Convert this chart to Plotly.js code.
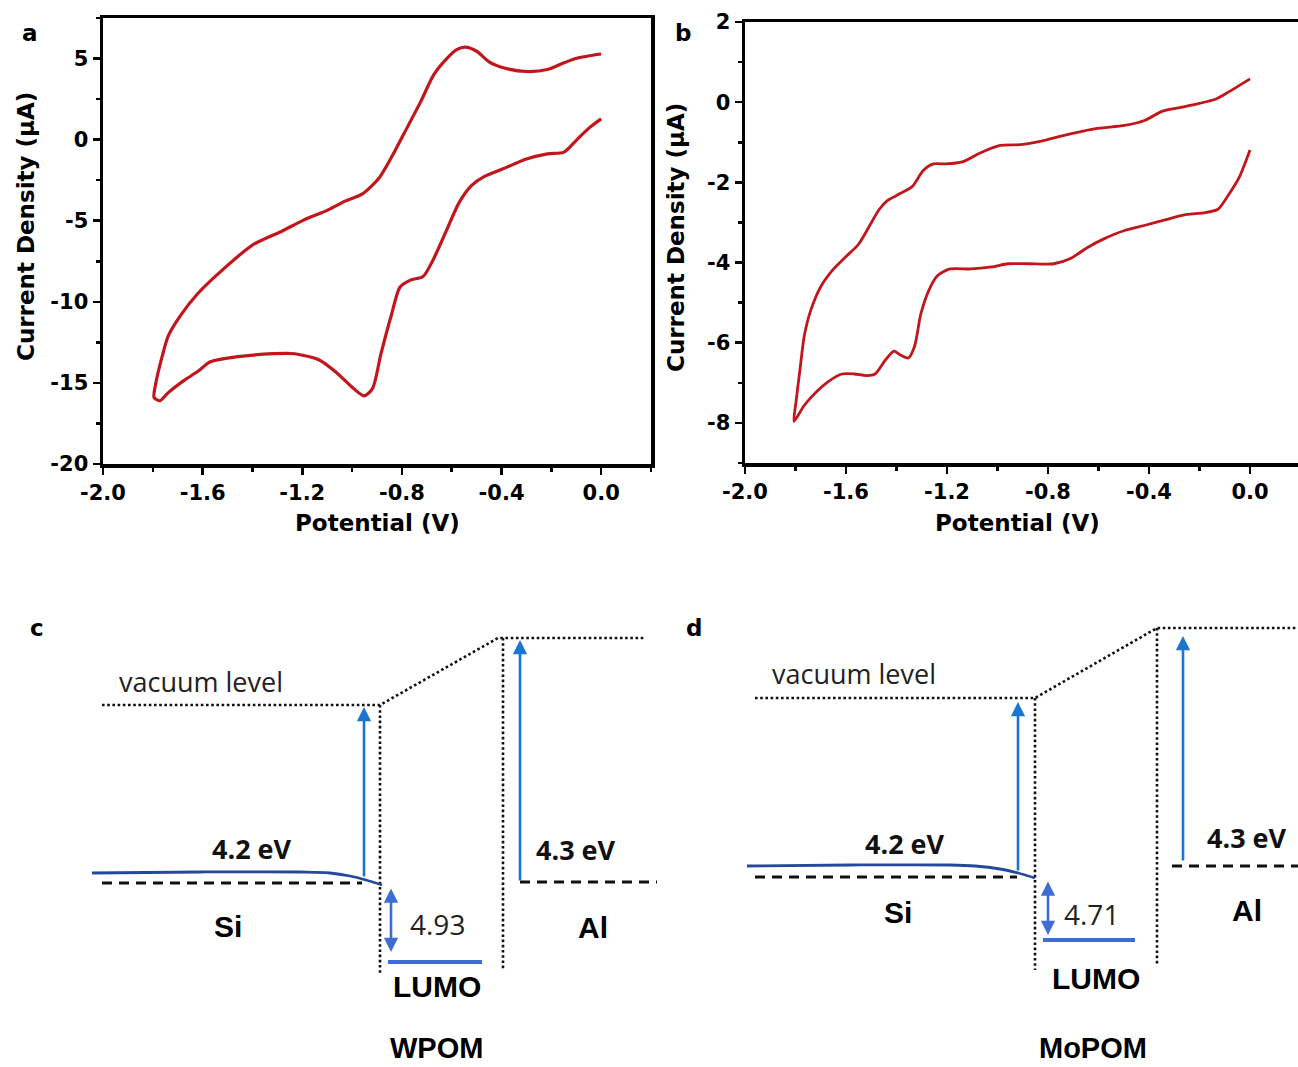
<!DOCTYPE html>
<html><head><meta charset="utf-8">
<script src="https://cdn.plot.ly/plotly-3.0.1.min.js"></script>
<style>html,body{margin:0;padding:0;background:#fff;}#chart{width:1298px;height:1067px;}</style>
</head><body><div id="chart"></div>
<script>
// ---------- Panel a : CV of WPOM ----------
const aPotential = [0.000,-0.047,-0.098,-0.149,-0.216,-0.300,-0.385,-0.450,-0.500,-0.545,-0.580,-0.622,-0.673,-0.724,-0.790,-0.842,-0.893,-0.960,-1.028,-1.096,-1.197,-1.280,-1.400,-1.518,-1.620,-1.687,-1.738,-1.763,-1.789,-1.795,-1.772,-1.738,-1.670,-1.620,-1.569,-1.467,-1.315,-1.230,-1.130,-1.060,-0.994,-0.952,-0.918,-0.884,-0.842,-0.808,-0.766,-0.715,-0.673,-0.622,-0.571,-0.520,-0.470,-0.385,-0.300,-0.216,-0.149,-0.098,-0.047,0.000];
const aCurrent   = [5.28,5.17,5.02,4.74,4.32,4.20,4.40,4.80,5.45,5.70,5.55,4.96,3.98,2.36,0.42,-1.09,-2.39,-3.36,-3.79,-4.33,-4.98,-5.63,-6.50,-8.00,-9.50,-10.8,-12.1,-13.4,-15.1,-15.9,-16.1,-15.6,-14.8,-14.3,-13.7,-13.4,-13.2,-13.2,-13.6,-14.4,-15.35,-15.8,-15.35,-13.2,-10.8,-9.1,-8.66,-8.44,-7.36,-5.63,-3.9,-2.82,-2.28,-1.74,-1.2,-0.88,-0.77,-0.01,0.74,1.28];
const aYTickVals = [-20,-15,-10,-5,0,5];
const aYTickText = ['-20','-15','-10','-5','0','5'];

// ---------- Panel b : CV of MoPOM ----------
const bPotential = [0.000,-0.086,-0.135,-0.200,-0.283,-0.349,-0.415,-0.497,-0.612,-0.744,-0.826,-0.909,-0.990,-1.073,-1.139,-1.205,-1.254,-1.295,-1.337,-1.386,-1.435,-1.468,-1.501,-1.551,-1.600,-1.649,-1.699,-1.740,-1.765,-1.781,-1.798,-1.806,-1.765,-1.715,-1.666,-1.616,-1.567,-1.518,-1.485,-1.444,-1.410,-1.386,-1.353,-1.328,-1.304,-1.271,-1.238,-1.188,-1.106,-1.024,-0.958,-0.876,-0.777,-0.711,-0.645,-0.579,-0.497,-0.415,-0.333,-0.250,-0.184,-0.127,-0.086,-0.044,0.000];
const bCurrent   = [0.58,0.25,0.08,-0.03,-0.14,-0.23,-0.45,-0.58,-0.66,-0.84,-0.97,-1.06,-1.08,-1.28,-1.49,-1.54,-1.54,-1.71,-2.10,-2.28,-2.45,-2.67,-3.02,-3.55,-3.85,-4.16,-4.59,-5.20,-5.82,-6.60,-7.48,-7.96,-7.56,-7.21,-6.95,-6.78,-6.78,-6.82,-6.78,-6.43,-6.21,-6.30,-6.38,-6.08,-5.29,-4.68,-4.33,-4.16,-4.16,-4.11,-4.03,-4.03,-4.03,-3.90,-3.63,-3.41,-3.20,-3.07,-2.93,-2.80,-2.76,-2.67,-2.32,-1.89,-1.19];
const bYTickVals = [-8,-6,-4,-2,0,2];
const bYTickText = ['-8','-6','-4','-2','0','2'];

const xTickVals = [-2.0,-1.6,-1.2,-0.8,-0.4,0.0];
const xTickText = ['-2.0','-1.6','-1.2','-0.8','-0.4','0.0'];

// ---------- Panel c : WPOM energy diagram (schematic units) ----------
const cVacuumX = [102, 380, 498, 645];
const cVacuumY = [705, 705, 638, 638];
const cWallLeftX = [380, 380];   const cWallLeftY = [705, 975];
const cWallRightX = [503, 503];  const cWallRightY = [638, 970];
const cSiBandX = [92, 200, 300, 330, 350, 366, 382];
const cSiBandY = [873, 872, 872, 873, 876, 880, 885];
const cSiFermiX = [102, 362];    const cSiFermiY = [883, 883];
const cAlFermiX = [520, 657];    const cAlFermiY = [882, 882];
const cLumoX = [388, 482];       const cLumoY = [962, 962];
const cSiArrow = [364, 878, 364, 707];   // tail x,y, head x,y
const cAlArrow = [520, 882, 520, 640];
const cGapArrow = [391, 887, 391, 952];

// ---------- Panel d : MoPOM energy diagram (schematic units) ----------
const dVacuumX = [755, 1035, 1157, 1298];
const dVacuumY = [698, 698, 628, 628];
const dWallLeftX = [1035, 1035];  const dWallLeftY = [698, 970];
const dWallRightX = [1157, 1157]; const dWallRightY = [628, 965];
const dSiBandX = [747, 850, 950, 975, 1000, 1018, 1035];
const dSiBandY = [866, 865, 865, 866, 869, 873, 878];
const dSiFermiX = [755, 1017];    const dSiFermiY = [877, 877];
const dAlFermiX = [1172, 1298];   const dAlFermiY = [866, 866];
const dLumoX = [1043, 1135];      const dLumoY = [940, 940];
const dSiArrow = [1018, 872, 1018, 702];
const dAlArrow = [1183, 862, 1183, 636];
const dGapArrow = [1048, 880, 1048, 935];

// ---------- helpers ----------
const W = 1298, H = 1067;
const px = v => v / W;
const py = v => 1 - v / H;
const RED = '#c0161c';
const BLUE = '#1b74d1';
const NAVY = '#24489b';
const LBLUE = '#3d6dd4';
const boldFont = (s) => ({family:'DejaVu Sans, Liberation Sans, Arial', size:s, color:'#000', weight:'bold'});
const dotted = {color:'#111', width:2.6, dash:'2.6px,2.6px'};
const dashed = {color:'#111', width:3, dash:'10px,7px'};

function line(x, y, xa, ya, ln, shape){
  return {x, y, xaxis:xa, yaxis:ya, type:'scatter', mode:'lines', line:Object.assign({shape:shape||'linear'}, ln), hoverinfo:'skip', showlegend:false};
}

const traces = [
  line(aPotential, aCurrent, 'x', 'y', {color:RED, width:3.2, smoothing:0.7}, 'spline'),
  line(bPotential, bCurrent, 'x2', 'y2', {color:RED, width:2.8, smoothing:0.7}, 'spline'),
  // c
  line(cVacuumX, cVacuumY, 'x3', 'y3', dotted),
  line(cWallLeftX, cWallLeftY, 'x3', 'y3', dotted),
  line(cWallRightX, cWallRightY, 'x3', 'y3', dotted),
  line(cSiFermiX, cSiFermiY, 'x3', 'y3', dashed),
  line(cAlFermiX, cAlFermiY, 'x3', 'y3', dashed),
  line(cSiBandX, cSiBandY, 'x3', 'y3', {color:NAVY, width:2.8, smoothing:1}, 'spline'),
  line(cLumoX, cLumoY, 'x3', 'y3', {color:LBLUE, width:4}),
  // d
  line(dVacuumX, dVacuumY, 'x3', 'y3', dotted),
  line(dWallLeftX, dWallLeftY, 'x3', 'y3', dotted),
  line(dWallRightX, dWallRightY, 'x3', 'y3', dotted),
  line(dSiFermiX, dSiFermiY, 'x3', 'y3', dashed),
  line(dAlFermiX, dAlFermiY, 'x3', 'y3', dashed),
  line(dSiBandX, dSiBandY, 'x3', 'y3', {color:NAVY, width:2.8, smoothing:1}, 'spline'),
  line(dLumoX, dLumoY, 'x3', 'y3', {color:LBLUE, width:4})
];

function cvXAxis(domain, range, anchor){
  return {domain, range, anchor, showline:true, linewidth:3.5, linecolor:'#000', mirror:true,
    ticks:'outside', ticklen:7, tickwidth:2.5, tickcolor:'#000',
    tickmode:'array', tickvals:xTickVals, ticktext:xTickText,
    minor:{tickmode:'linear', tick0:-2, dtick:0.2, ticks:'outside', ticklen:4, tickwidth:2.5, tickcolor:'#000', showgrid:false},
    showgrid:false, zeroline:false, tickfont:boldFont(21), fixedrange:true};
}
function cvYAxis(domain, range, anchor, vals, text, minorDt, mirror){
  return {domain, range, anchor, showline:true, linewidth:3.5, linecolor:'#000', mirror,
    ticks:'outside', ticklen:7, tickwidth:2.5, tickcolor:'#000',
    tickmode:'array', tickvals:vals, ticktext:text,
    minor:{tickmode:'linear', tick0:0, dtick:minorDt, ticks:'outside', ticklen:4, tickwidth:2.5, tickcolor:'#000', showgrid:false},
    showgrid:false, zeroline:false, tickfont:boldFont(21), fixedrange:true};
}

function arrow(a, dbl, color){
  const o = {xref:'x3', yref:'y3', axref:'x3', ayref:'y3', x:a[2], y:a[3], ax:a[0], ay:a[1],
    showarrow:true, arrowhead:2, arrowsize:1.1, arrowwidth:2.6, arrowcolor:color, text:'', standoff:0, startstandoff:0};
  if (dbl){ o.arrowside = 'end+start'; o.startarrowhead = 2; o.startarrowsize = 1.1; }
  return o;
}
function label(text, x, y, font, opts){
  return Object.assign({text, xref:'paper', yref:'paper', x:px(x), y:py(y), xanchor:'center', yanchor:'middle', showarrow:false, font}, opts||{});
}
const regFont = (s) => ({family:'Open Sans, Noto Sans, Arial', size:s, color:'#222'});
const semiFont = (s) => ({family:'Open Sans, Noto Sans, Arial', size:s, color:'#111', weight:'bold'});
const armFont = (s) => ({family:'Liberation Sans, Arial', size:s, color:'#000', weight:'bold'});

const annotations = [
  // panel letters
  label('a', 30, 33, boldFont(23)),
  label('b', 683, 33, boldFont(23)),
  label('c', 37, 628, boldFont(23)),
  label('d', 694, 628, boldFont(23)),
  // axis titles
  label('Potential (V)', 377, 523, boldFont(23)),
  label('Potential (V)', 1017, 523, boldFont(23)),
  label('Current Density (μA)', 26, 227, boldFont(23), {textangle:-90}),
  label('Current Density (μA)', 676, 238, boldFont(23), {textangle:-90}),
  // c
  label('vacuum level', 201, 681, regFont(27)),
  label('4.2 eV', 252, 848, semiFont(27)),
  label('4.3 eV', 576, 849, semiFont(27)),
  label('4.93', 437, 924, regFont(28)),
  label('Si', 228, 926, armFont(30)),
  label('Al', 593, 927, armFont(30)),
  label('LUMO', 437, 986, armFont(30)),
  label('WPOM', 436, 1048, armFont(29)),
  arrow(cSiArrow, false, BLUE),
  arrow(cAlArrow, false, BLUE),
  arrow(cGapArrow, true, LBLUE),
  // d
  label('vacuum level', 854, 674, regFont(27)),
  label('4.2 eV', 905, 843, semiFont(27)),
  label('4.3 eV', 1247, 837, semiFont(27)),
  label('4.71', 1091, 914, regFont(28)),
  label('Si', 898, 912, armFont(30)),
  label('Al', 1247, 910, armFont(30)),
  label('LUMO', 1096, 978, armFont(30)),
  label('MoPOM', 1093, 1048, armFont(29)),
  arrow(dSiArrow, false, BLUE),
  arrow(dAlArrow, false, BLUE),
  arrow(dGapArrow, true, LBLUE)
];

const layout = {
  width: W, height: H, margin:{l:0, r:0, t:0, b:0},
  paper_bgcolor:'#fff', plot_bgcolor:'rgba(0,0,0,0)', showlegend:false,
  xaxis: cvXAxis([px(103), px(651)], [-2.0, 0.2], 'y'),
  yaxis: cvYAxis([py(464), py(18)], [-20, 7.5], 'x', aYTickVals, aYTickText, 2.5, true),
  xaxis2: cvXAxis([px(745), 1], [-2.0, 0.19], 'y2'),
  yaxis2: cvYAxis([py(463), py(22)], [-9, 2], 'x2', bYTickVals, bYTickText, 1, false),
  xaxis3: {domain:[0,1], range:[0, W], anchor:'y3', visible:false, fixedrange:true},
  yaxis3: {domain:[0,1], range:[H, 0], anchor:'x3', visible:false, fixedrange:true},
  annotations
};

Plotly.newPlot('chart', traces, layout, {displayModeBar:false, staticPlot:true});
</script>
</body></html>
